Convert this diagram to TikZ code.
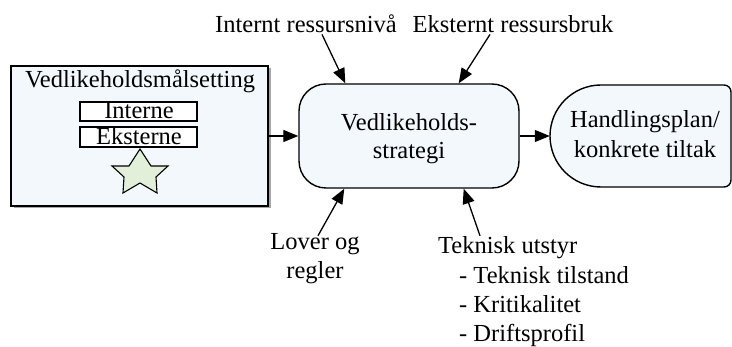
\documentclass[tikz,border=0pt]{standalone}
\usepackage{fontspec}
\setmainfont{Liberation Serif}
\newfontfamily\diagfont{Liberation Serif}
\usetikzlibrary{arrows.meta,calc,shadows}
\definecolor{boxfill}{HTML}{F3F8FC}
\definecolor{starfill}{HTML}{E2EFD9}
\tikzset{
  lbl/.style={inner sep=0pt, font=\diagfont\fontsize{24.5}{30}\selectfont},
  outline/.style={draw=black, line width=1.4pt},
  arr/.style={line width=1.3pt, -{Triangle[length=15pt,width=12pt]}},
  tagbox/.style={draw=black, line width=1.1pt, fill=white, minimum width=117pt, minimum height=19pt, inner sep=0pt}
}
\begin{document}
\begin{tikzpicture}[x=1pt,y=-1pt]
\useasboundingbox (0,0) rectangle (732,347);

% goal box with shadow
\node[outline, fill=boxfill, minimum width=257pt, minimum height=140pt, inner sep=0pt,
      drop shadow={shadow xshift=2.5pt, shadow yshift=-2.5pt, fill=black, opacity=0.35}]
      (goal) at (139.5,136) {};
\node[lbl, anchor=base] (goaltitle) at (140,88) {Vedlikeholdsmålsetting};
\node[tagbox] (intbox) at (138.5,111.5) {};
\node[lbl, anchor=base] (inttxt) at (139,119) {Interne};
\node[tagbox, minimum height=20pt] (eksbox) at (138.5,137) {};
\node[lbl, anchor=base] (ekstxt) at (139,145) {Eksterne};
\draw[line width=1.1pt, fill=starfill]
  (140,149) -- (151,166) -- (168,166) -- (156,177) -- (157,193) -- (140,183)
  -- (123,193) -- (124,177) -- (112,166) -- (129,166) -- cycle;

% strategy box
\node[outline, fill=boxfill, rounded corners=27pt, minimum width=220pt, minimum height=104pt, inner sep=0pt]
      (strat) at (409,136) {};
\node[lbl, anchor=base] (strat1) at (409,131) {Vedlikeholds-};
\node[lbl, anchor=base] (strat2) at (409,159) {strategi};

% action box: round left end, small radius on the right
\node[minimum width=181pt, minimum height=102pt, inner sep=0pt] (act) at (640.5,136) {};
\draw[outline, fill=boxfill] (601,85) [rounded corners=7pt] -- (731,85) -- (731,187)
  [sharp corners] -- (601,187) arc (90:270:51) -- cycle;
\node[lbl, anchor=base] (act1) at (645,128) {Handlingsplan/};
\node[lbl, anchor=base] (act2) at (645,158) {konkrete tiltak};

% input labels
\node[lbl, anchor=base] (intres) at (306,33) {Internt ressursnivå};
\node[lbl, anchor=base] (eksres) at (513,33) {Eksternt ressursbruk};
\node[lbl, anchor=base] (lov1) at (315,250) {Lover og};
\node[lbl, anchor=base] (lov2) at (315,279) {regler};
\node[lbl, anchor=base west] (tek1) at (438,254) {Teknisk utstyr};
\node[lbl, anchor=base west] (tek2) at (459,284) {- Teknisk tilstand};
\node[lbl, anchor=base west] (tek3) at (459,313) {- Kritikalitet};
\node[lbl, anchor=base west] (tek4) at (459,342) {- Driftsprofil};

% connectors
\draw[arr] (goal.east) -- (strat.west);
\draw[arr] (strat.east) -- (act.west);
\draw[arr] ($(intres.south)+(16,1)$) -- ($(strat.north west)+(47,0)$);
\draw[arr] ($(eksres.south)+(-23,1)$) -- ($(strat.north east)+(-61,0)$);
\draw[arr] ($(lov1.north)+(3,2)$) -- ($(strat.south west)+(46,0)$);
\draw[arr] ($(tek1.north west)+(42,-1)$) -- ($(strat.south east)+(-56,0)$);
\end{tikzpicture}
\end{document}
